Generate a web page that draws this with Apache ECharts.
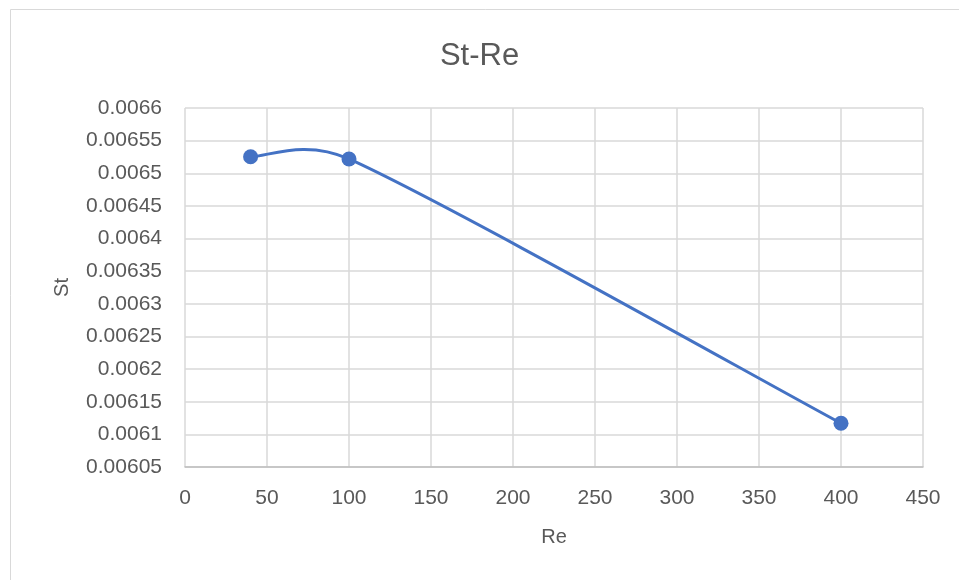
<!DOCTYPE html>
<html><head><meta charset="utf-8">
<script src="https://cdn.jsdelivr.net/npm/echarts@6/dist/echarts.min.js"></script>
<style>html,body{margin:0;padding:0;background:#fff}#c{width:959px;height:580px}</style>
</head><body><div id="c"></div>
<script>
const reValues = [40, 100, 400];
const stValues = [0.0065254, 0.0065219, 0.006117];
const xTicks = [0, 50, 100, 150, 200, 250, 300, 350, 400, 450];
const yTicks = [0.00605, 0.0061, 0.00615, 0.0062, 0.00625, 0.0063, 0.00635, 0.0064, 0.00645, 0.0065, 0.00655, 0.0066];

const chart = echarts.init(document.getElementById('c'));
const font = 'Liberation Sans, Arial, sans-serif';
const pts = reValues.map((x, i) => [x, stValues[i]]);

// Excel-like smoothed line, computed in pixel space from the axis coordinates
function renderSmooth(params, api) {
  const p = pts.map(d => api.coord(d));
  const n = p.length;
  const dist = (a, b) => Math.hypot(b[0] - a[0], b[1] - a[1]);
  const tangent = i => {
    const a = p[Math.max(0, i - 1)], b = p[Math.min(n - 1, i + 1)];
    const L = dist(a, b) || 1;
    return [(b[0] - a[0]) / L, (b[1] - a[1]) / L, L];
  };
  let d = 'M' + p[0][0] + ' ' + p[0][1];
  for (let i = 0; i < n - 1; i++) {
    const seg = dist(p[i], p[i + 1]);
    const t0 = tangent(i), t1 = tangent(i + 1);
    const d0 = Math.min(t0[2] / 6, seg * 0.5);
    const d1 = Math.min(t1[2] / 6, seg * 0.5);
    const c1 = [p[i][0] + t0[0] * d0, p[i][1] + t0[1] * d0];
    const c2 = [p[i + 1][0] - t1[0] * d1, p[i + 1][1] - t1[1] * d1];
    d += ' C' + c1[0] + ' ' + c1[1] + ' ' + c2[0] + ' ' + c2[1] + ' ' + p[i + 1][0] + ' ' + p[i + 1][1];
  }
  return {type: 'path', shape: {pathData: d}, style: {fill: null, stroke: '#4472C4', lineWidth: 3, lineCap: 'round', lineJoin: 'round'}};
}

chart.setOption({
  animation: false,
  graphic: [{type:'rect', shape:{x:10.5,y:9.5,width:1200,height:1200}, style:{fill:'none', stroke:'#d9d9d9', lineWidth:1}, z:-10}],
  title: {text:'St-Re', left:'center', top:36, textStyle:{fontFamily:font, fontSize:31, fontWeight:'normal', color:'#595959'}},
  grid: {left:185, right:36, top:108, bottom:113},
  xAxis: {type:'value', min:xTicks[0], max:xTicks[xTicks.length-1], interval:50,
    name:'Re', nameLocation:'middle', nameGap:60, nameTextStyle:{fontFamily:font, fontSize:20, color:'#595959'},
    axisLine:{show:true, lineStyle:{color:'#bfbfbf', width:1.5}}, axisTick:{show:false},
    axisLabel:{fontFamily:font, fontSize:21, color:'#595959', margin:21},
    splitLine:{show:true, lineStyle:{color:'#d9d9d9', width:1.5}}},
  yAxis: {type:'value', min:yTicks[0], max:yTicks[yTicks.length-1], interval:0.00005,
    name:'St', nameLocation:'middle', nameGap:113, nameRotate:90, nameTextStyle:{fontFamily:font, fontSize:20, color:'#595959'},
    axisLine:{show:false}, axisTick:{show:false},
    axisLabel:{fontFamily:font, fontSize:21, color:'#595959', margin:23, formatter: v => String(parseFloat(v.toFixed(6)))},
    splitLine:{show:true, lineStyle:{color:'#d9d9d9', width:1.5}}},
  series: [
    {type:'custom', data:[0], renderItem: renderSmooth, silent:true, z:2},
    {type:'scatter', data: pts, symbol:'circle', symbolSize:15, itemStyle:{color:'#4472C4', opacity:1}, z:3}
  ]
});
</script></body></html>
